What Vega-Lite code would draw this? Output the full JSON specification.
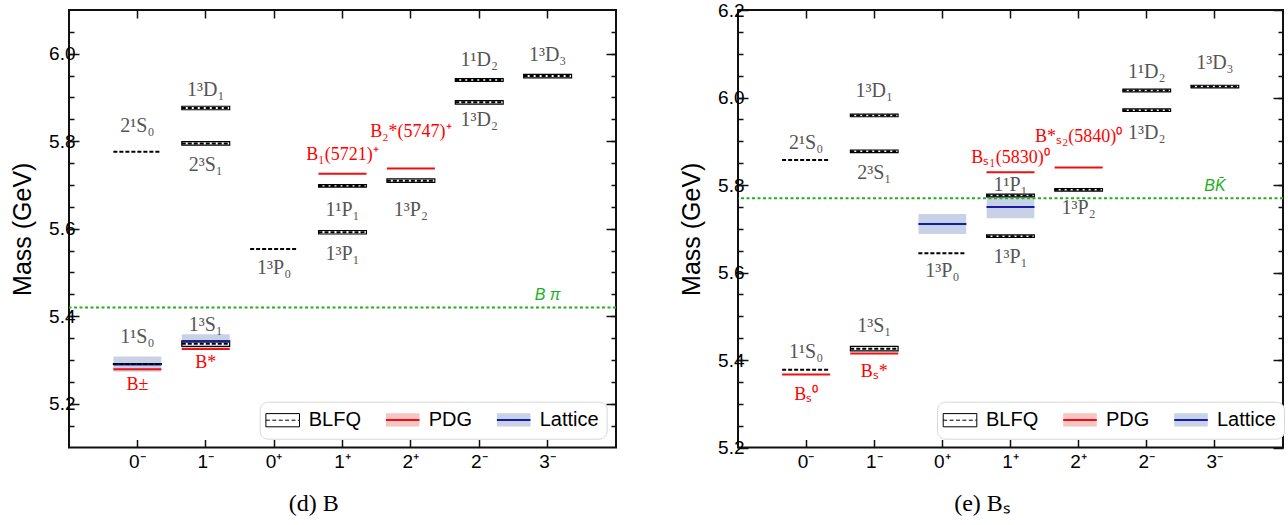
{
  "$schema": "https://vega.github.io/schema/vega-lite/v6.json",
  "background": "white",
  "padding": {"left": 9, "top": 0, "right": 2, "bottom": 2},
  "config": {
    "view": {"stroke": "#111", "strokeWidth": 2},
    "font": "Liberation Sans",
    "axis": {"grid": false, "domain": false, "labelFont": "Liberation Sans", "labelFontSize": 19, "labelColor": "black", "tickColor": "#111", "tickWidth": 1.5, "titleFont": "Liberation Sans", "titleFontSize": 25, "titleFontWeight": "normal", "titleColor": "black", "titlePadding": 13},
    "legend": {"labelFont": "Liberation Sans", "labelFontSize": 20, "labelColor": "black"}
  },
  "datasets": {
    "levels": [
      {"panel": "B", "jp": "0⁻", "series": "Lattice", "mass": 5.290, "lo": 5.273, "hi": 5.308},
      {"panel": "B", "jp": "1⁻", "series": "Lattice", "mass": 5.342, "lo": 5.327, "hi": 5.359},
      {"panel": "B", "jp": "0⁻", "series": "PDG", "mass": 5.279, "lo": 5.278, "hi": 5.280},
      {"panel": "B", "jp": "1⁻", "series": "PDG", "mass": 5.325, "lo": 5.324, "hi": 5.326},
      {"panel": "B", "jp": "1⁺", "series": "PDG", "mass": 5.726, "lo": 5.725, "hi": 5.727},
      {"panel": "B", "jp": "2⁺", "series": "PDG", "mass": 5.738, "lo": 5.737, "hi": 5.739},
      {"panel": "B", "jp": "0⁻", "series": "BLFQ", "mass": 5.291, "lo": 5.290, "hi": 5.292},
      {"panel": "B", "jp": "0⁻", "series": "BLFQ", "mass": 5.776, "lo": null, "hi": null},
      {"panel": "B", "jp": "1⁻", "series": "BLFQ", "mass": 5.337, "lo": 5.331, "hi": 5.344},
      {"panel": "B", "jp": "1⁻", "series": "BLFQ", "mass": 5.795, "lo": 5.791, "hi": 5.799},
      {"panel": "B", "jp": "1⁻", "series": "BLFQ", "mass": 5.876, "lo": 5.872, "hi": 5.880},
      {"panel": "B", "jp": "0⁺", "series": "BLFQ", "mass": 5.554, "lo": null, "hi": null},
      {"panel": "B", "jp": "1⁺", "series": "BLFQ", "mass": 5.592, "lo": 5.588, "hi": 5.596},
      {"panel": "B", "jp": "1⁺", "series": "BLFQ", "mass": 5.698, "lo": 5.695, "hi": 5.701},
      {"panel": "B", "jp": "2⁺", "series": "BLFQ", "mass": 5.710, "lo": 5.706, "hi": 5.714},
      {"panel": "B", "jp": "2⁻", "series": "BLFQ", "mass": 5.889, "lo": 5.885, "hi": 5.893},
      {"panel": "B", "jp": "2⁻", "series": "BLFQ", "mass": 5.940, "lo": 5.937, "hi": 5.943},
      {"panel": "B", "jp": "3⁻", "series": "BLFQ", "mass": 5.949, "lo": 5.945, "hi": 5.953},
      {"panel": "Bs", "jp": "0⁺", "series": "Lattice", "mass": 5.711, "lo": 5.688, "hi": 5.734},
      {"panel": "Bs", "jp": "1⁺", "series": "Lattice", "mass": 5.750, "lo": 5.724, "hi": 5.773},
      {"panel": "Bs", "jp": "0⁻", "series": "PDG", "mass": 5.367, "lo": 5.366, "hi": 5.368},
      {"panel": "Bs", "jp": "1⁻", "series": "PDG", "mass": 5.415, "lo": 5.414, "hi": 5.416},
      {"panel": "Bs", "jp": "1⁺", "series": "PDG", "mass": 5.829, "lo": 5.828, "hi": 5.830},
      {"panel": "Bs", "jp": "2⁺", "series": "PDG", "mass": 5.840, "lo": 5.839, "hi": 5.841},
      {"panel": "Bs", "jp": "0⁻", "series": "BLFQ", "mass": 5.378, "lo": null, "hi": null},
      {"panel": "Bs", "jp": "0⁻", "series": "BLFQ", "mass": 5.857, "lo": null, "hi": null},
      {"panel": "Bs", "jp": "1⁻", "series": "BLFQ", "mass": 5.426, "lo": 5.421, "hi": 5.431},
      {"panel": "Bs", "jp": "1⁻", "series": "BLFQ", "mass": 5.877, "lo": 5.874, "hi": 5.880},
      {"panel": "Bs", "jp": "1⁻", "series": "BLFQ", "mass": 5.959, "lo": 5.956, "hi": 5.962},
      {"panel": "Bs", "jp": "0⁺", "series": "BLFQ", "mass": 5.644, "lo": null, "hi": null},
      {"panel": "Bs", "jp": "1⁺", "series": "BLFQ", "mass": 5.683, "lo": 5.680, "hi": 5.686},
      {"panel": "Bs", "jp": "1⁺", "series": "BLFQ", "mass": 5.776, "lo": 5.773, "hi": 5.779},
      {"panel": "Bs", "jp": "2⁺", "series": "BLFQ", "mass": 5.789, "lo": 5.786, "hi": 5.792},
      {"panel": "Bs", "jp": "2⁻", "series": "BLFQ", "mass": 5.971, "lo": 5.968, "hi": 5.974},
      {"panel": "Bs", "jp": "2⁻", "series": "BLFQ", "mass": 6.016, "lo": 6.013, "hi": 6.019},
      {"panel": "Bs", "jp": "3⁻", "series": "BLFQ", "mass": 6.025, "lo": 6.022, "hi": 6.028}
    ],
    "thresholds": [
      {"panel": "B", "name": "Bπ", "mass": 5.420},
      {"panel": "Bs", "name": "BK̄", "mass": 5.770}
    ],
    "labels": [
      {"panel": "B", "jp": "0⁻", "pos": 5.834, "text": "2¹S₀", "kind": "state"},
      {"panel": "B", "jp": "1⁻", "pos": 5.918, "text": "1³D₁", "kind": "state"},
      {"panel": "B", "jp": "1⁻", "pos": 5.746, "text": "2³S₁", "kind": "state"},
      {"panel": "B", "jp": "1⁺", "pos": 5.643, "text": "1¹P₁", "kind": "state"},
      {"panel": "B", "jp": "1⁺", "pos": 5.543, "text": "1³P₁", "kind": "state"},
      {"panel": "B", "jp": "0⁺", "pos": 5.510, "text": "1³P₀", "kind": "state"},
      {"panel": "B", "jp": "2⁺", "pos": 5.643, "text": "1³P₂", "kind": "state"},
      {"panel": "B", "jp": "2⁻", "pos": 5.986, "text": "1¹D₂", "kind": "state"},
      {"panel": "B", "jp": "2⁻", "pos": 5.849, "text": "1³D₂", "kind": "state"},
      {"panel": "B", "jp": "3⁻", "pos": 5.998, "text": "1³D₃", "kind": "state"},
      {"panel": "B", "jp": "0⁻", "pos": 5.352, "text": "1¹S₀", "kind": "state"},
      {"panel": "B", "jp": "1⁻", "pos": 5.381, "text": "1³S₁", "kind": "state"},
      {"panel": "B", "jp": "1⁺", "pos": 5.769, "text": "B₁(5721)⁺", "kind": "pdg"},
      {"panel": "B", "jp": "2⁺", "pos": 5.822, "text": "B₂*(5747)⁺", "kind": "pdg"},
      {"panel": "B", "jp": "0⁻", "pos": 5.243, "text": "B±", "kind": "pdg"},
      {"panel": "B", "jp": "1⁻", "pos": 5.293, "text": "B*", "kind": "pdg"},
      {"panel": "B", "jp": "3⁻", "pos": 5.449, "text": "B π", "kind": "thr"},
      {"panel": "Bs", "jp": "0⁻", "pos": 5.895, "text": "2¹S₀", "kind": "state"},
      {"panel": "Bs", "jp": "1⁻", "pos": 6.015, "text": "1³D₁", "kind": "state"},
      {"panel": "Bs", "jp": "1⁻", "pos": 5.827, "text": "2³S₁", "kind": "state"},
      {"panel": "Bs", "jp": "1⁺", "pos": 5.801, "text": "1¹P₁", "kind": "state"},
      {"panel": "Bs", "jp": "1⁺", "pos": 5.636, "text": "1³P₁", "kind": "state"},
      {"panel": "Bs", "jp": "0⁺", "pos": 5.603, "text": "1³P₀", "kind": "state"},
      {"panel": "Bs", "jp": "2⁺", "pos": 5.748, "text": "1³P₂", "kind": "state"},
      {"panel": "Bs", "jp": "2⁻", "pos": 6.059, "text": "1¹D₂", "kind": "state"},
      {"panel": "Bs", "jp": "2⁻", "pos": 5.918, "text": "1³D₂", "kind": "state"},
      {"panel": "Bs", "jp": "3⁻", "pos": 6.078, "text": "1³D₃", "kind": "state"},
      {"panel": "Bs", "jp": "0⁻", "pos": 5.419, "text": "1¹S₀", "kind": "state"},
      {"panel": "Bs", "jp": "1⁻", "pos": 5.478, "text": "1³S₁", "kind": "state"},
      {"panel": "Bs", "jp": "1⁺", "pos": 5.862, "text": "Bₛ₁(5830)⁰", "kind": "pdg"},
      {"panel": "Bs", "jp": "2⁺", "pos": 5.910, "text": "B*ₛ₂(5840)⁰", "kind": "pdg"},
      {"panel": "Bs", "jp": "0⁻", "pos": 5.320, "text": "Bₛ⁰", "kind": "pdg"},
      {"panel": "Bs", "jp": "1⁻", "pos": 5.373, "text": "Bₛ*", "kind": "pdg"},
      {"panel": "Bs", "jp": "3⁻", "pos": 5.798, "text": "BK̄", "kind": "thr"}
    ]
  },
  "bounds": "flush",
  "spacing": 122,
  "resolve": {"scale": {"color": "independent", "stroke": "independent", "strokeDash": "independent"}, "legend": {"color": "independent"}},
  "hconcat": [
    {
      "width": 547,
      "height": 437.5,
      "title": {"text": "(d) B", "orient": "bottom", "anchor": "middle", "frame": "bounds", "font": "Liberation Serif", "fontSize": 24, "fontWeight": "normal", "color": "black", "offset": 20},
      "resolve": {"axis": {"x": "independent", "y": "independent"}},
      "layer": [
        {
          "data": {"name": "levels"},
          "transform": [{"filter": "datum.panel === 'B'"}],
          "mark": {"type": "bar", "width": {"band": 0.7}, "strokeWidth": 1.2},
          "encoding": {
            "x": {"field": "jp", "type": "nominal", "scale": {"domain": ["0⁻", "1⁻", "0⁺", "1⁺", "2⁺", "2⁻", "3⁻"], "paddingInner": 0, "paddingOuter": 0.5}, "axis": {"orient": "bottom", "title": null, "labelAngle": 0, "tickSize": -8, "labelPadding": 13}},
            "y": {"field": "lo", "type": "quantitative", "scale": {"domain": [5.1, 6.1], "nice": false, "zero": false}, "axis": {"orient": "left", "title": "Mass (GeV)", "values": [5.2, 5.4, 5.6, 5.8, 6.0], "format": ".1f", "tickSize": -10, "labelPadding": 4}},
            "y2": {"field": "hi"},
            "color": {"field": "series", "type": "nominal", "sort": ["BLFQ", "PDG", "Lattice"], "scale": {"range": ["white", "#f7c4c4", "#c8d2e6"]},
              "legend": {"title": null, "orient": "none", "legendX": 190.7, "legendY": 391.7, "direction": "horizontal", "symbolType": "M-1.4,0H1.4V0.55H-1.4V-0.55H1.4V0Z", "symbolSize": 576, "symbolOffset": 5, "labelOffset": 16, "columnPadding": 20, "padding": 8, "fillColor": "white", "strokeColor": "#d8d8d8", "cornerRadius": 8,
                "encoding": {"symbols": {
                  "stroke": {"value": {"signal": "datum.value === 'BLFQ' ? '#000000' : (datum.value === 'PDG' ? '#ee1111' : '#1a1aa8')"}},
                  "strokeWidth": {"value": {"signal": "datum.value === 'BLFQ' ? 1 : 2"}},
                  "strokeDash": {"value": {"signal": "datum.value === 'BLFQ' ? [4, 2.4, 4, 2.4, 4, 2.4, 4, 2.4, 4, 2.4, 1.6, 0, 93.6, 40] : [33.6, 200]"}}
                }}}},
            "stroke": {"condition": {"test": "datum.series === 'BLFQ'", "value": "#000"}, "value": "transparent"}
          }
        },
        {
          "data": {"name": "levels"},
          "transform": [{"filter": "datum.panel === 'B'"}],
          "mark": {"type": "rule", "xOffset": -24, "x2Offset": 24, "strokeWidth": 2},
          "encoding": {
            "x": {"field": "jp", "type": "nominal", "bandPosition": 0.5, "axis": {"orient": "top", "labels": false, "title": null, "tickSize": -8}},
            "x2": {"field": "jp", "bandPosition": 0.5},
            "y": {"field": "mass", "type": "quantitative", "axis": {"orient": "right", "labels": false, "title": null, "values": [5.2, 5.4, 5.6, 5.8, 6.0], "tickSize": -10}},
            "stroke": {"field": "series", "type": "nominal", "scale": {"domain": ["BLFQ", "PDG", "Lattice"], "range": ["#000000", "#ee1111", "#1a1aa8"]}, "legend": null},
            "strokeDash": {"field": "series", "type": "nominal", "scale": {"domain": ["BLFQ", "PDG", "Lattice"], "range": [[4, 2], [1, 0], [1, 0]]}, "legend": null}
          }
        },
        {
          "data": {"name": "thresholds"},
          "transform": [{"filter": "datum.panel === 'B'"}],
          "mark": {"type": "rule", "strokeDash": [3, 2.5], "strokeWidth": 2, "color": "#22b022"},
          "encoding": {
            "y": {"field": "mass", "type": "quantitative", "axis": {"orient": "left", "labels": false, "title": null, "values": [5.15, 5.2, 5.25, 5.3, 5.35, 5.4, 5.45, 5.5, 5.55, 5.6, 5.65, 5.7, 5.75, 5.8, 5.85, 5.9, 5.95, 6.0, 6.05], "tickSize": -5}}
          }
        },
        {
          "data": {"name": "labels"},
          "transform": [{"filter": "datum.panel === 'B' && datum.kind === 'state'"}],
          "mark": {"type": "text", "font": "Liberation Serif", "fontSize": 20, "color": "#555555", "baseline": "middle"},
          "encoding": {
            "x": {"field": "jp", "type": "nominal", "axis": null},
            "y": {"field": "pos", "type": "quantitative", "axis": {"orient": "right", "labels": false, "title": null, "values": [5.15, 5.2, 5.25, 5.3, 5.35, 5.4, 5.45, 5.5, 5.55, 5.6, 5.65, 5.7, 5.75, 5.8, 5.85, 5.9, 5.95, 6.0, 6.05], "tickSize": -5}},
            "text": {"field": "text"}
          }
        },
        {
          "data": {"name": "labels"},
          "transform": [{"filter": "datum.panel === 'B' && datum.kind === 'pdg'"}],
          "mark": {"type": "text", "font": "Liberation Serif", "fontSize": 18, "color": "#ff0000", "baseline": "middle"},
          "encoding": {
            "x": {"field": "jp", "type": "nominal", "axis": null},
            "y": {"field": "pos", "type": "quantitative", "axis": null},
            "text": {"field": "text"}
          }
        },
        {
          "data": {"name": "labels"},
          "transform": [{"filter": "datum.panel === 'B' && datum.kind === 'thr'"}],
          "mark": {"type": "text", "font": "Liberation Sans", "fontSize": 16, "fontStyle": "italic", "color": "#22b022", "baseline": "middle"},
          "encoding": {
            "x": {"field": "jp", "type": "nominal", "axis": null},
            "y": {"field": "pos", "type": "quantitative", "axis": null},
            "text": {"field": "text"}
          }
        }
      ]
    },
    {
      "width": 545,
      "height": 437.5,
      "title": {"text": "(e) Bₛ", "orient": "bottom", "anchor": "middle", "frame": "bounds", "font": "Liberation Serif", "fontSize": 24, "fontWeight": "normal", "color": "black", "offset": 20},
      "resolve": {"axis": {"x": "independent", "y": "independent"}},
      "layer": [
        {
          "data": {"name": "levels"},
          "transform": [{"filter": "datum.panel === 'Bs'"}],
          "mark": {"type": "bar", "width": {"band": 0.7}, "strokeWidth": 1.2},
          "encoding": {
            "x": {"field": "jp", "type": "nominal", "scale": {"domain": ["0⁻", "1⁻", "0⁺", "1⁺", "2⁺", "2⁻", "3⁻"], "paddingInner": 0, "paddingOuter": 0.5}, "axis": {"orient": "bottom", "title": null, "labelAngle": 0, "tickSize": -8, "labelPadding": 13}},
            "y": {"field": "lo", "type": "quantitative", "scale": {"domain": [5.2, 6.2], "nice": false, "zero": false}, "axis": {"orient": "left", "title": "Mass (GeV)", "values": [5.2, 5.4, 5.6, 5.8, 6.0, 6.2], "format": ".1f", "tickSize": -10, "labelPadding": 4}},
            "y2": {"field": "hi"},
            "color": {"field": "series", "type": "nominal", "sort": ["BLFQ", "PDG", "Lattice"], "scale": {"range": ["white", "#f7c4c4", "#c8d2e6"]},
              "legend": {"title": null, "orient": "none", "legendX": 199, "legendY": 391.7, "direction": "horizontal", "symbolType": "M-1.4,0H1.4V0.55H-1.4V-0.55H1.4V0Z", "symbolSize": 576, "symbolOffset": 5, "labelOffset": 16, "columnPadding": 20, "padding": 8, "fillColor": "white", "strokeColor": "#d8d8d8", "cornerRadius": 8,
                "encoding": {"symbols": {
                  "stroke": {"value": {"signal": "datum.value === 'BLFQ' ? '#000000' : (datum.value === 'PDG' ? '#ee1111' : '#1a1aa8')"}},
                  "strokeWidth": {"value": {"signal": "datum.value === 'BLFQ' ? 1 : 2"}},
                  "strokeDash": {"value": {"signal": "datum.value === 'BLFQ' ? [4, 2.4, 4, 2.4, 4, 2.4, 4, 2.4, 4, 2.4, 1.6, 0, 93.6, 40] : [33.6, 200]"}}
                }}}},
            "stroke": {"condition": {"test": "datum.series === 'BLFQ'", "value": "#000"}, "value": "transparent"}
          }
        },
        {
          "data": {"name": "levels"},
          "transform": [{"filter": "datum.panel === 'Bs'"}],
          "mark": {"type": "rule", "xOffset": -24, "x2Offset": 24, "strokeWidth": 2},
          "encoding": {
            "x": {"field": "jp", "type": "nominal", "bandPosition": 0.5, "axis": {"orient": "top", "labels": false, "title": null, "tickSize": -8}},
            "x2": {"field": "jp", "bandPosition": 0.5},
            "y": {"field": "mass", "type": "quantitative", "axis": {"orient": "right", "labels": false, "title": null, "values": [5.2, 5.4, 5.6, 5.8, 6.0, 6.2], "tickSize": -10}},
            "stroke": {"field": "series", "type": "nominal", "scale": {"domain": ["BLFQ", "PDG", "Lattice"], "range": ["#000000", "#ee1111", "#1a1aa8"]}, "legend": null},
            "strokeDash": {"field": "series", "type": "nominal", "scale": {"domain": ["BLFQ", "PDG", "Lattice"], "range": [[4, 2], [1, 0], [1, 0]]}, "legend": null}
          }
        },
        {
          "data": {"name": "thresholds"},
          "transform": [{"filter": "datum.panel === 'Bs'"}],
          "mark": {"type": "rule", "strokeDash": [3, 2.5], "strokeWidth": 2, "color": "#22b022"},
          "encoding": {
            "y": {"field": "mass", "type": "quantitative", "axis": {"orient": "left", "labels": false, "title": null, "values": [5.25, 5.3, 5.35, 5.4, 5.45, 5.5, 5.55, 5.6, 5.65, 5.7, 5.75, 5.8, 5.85, 5.9, 5.95, 6.0, 6.05, 6.1, 6.15], "tickSize": -5}}
          }
        },
        {
          "data": {"name": "labels"},
          "transform": [{"filter": "datum.panel === 'Bs' && datum.kind === 'state'"}],
          "mark": {"type": "text", "font": "Liberation Serif", "fontSize": 20, "color": "#555555", "baseline": "middle"},
          "encoding": {
            "x": {"field": "jp", "type": "nominal", "axis": null},
            "y": {"field": "pos", "type": "quantitative", "axis": {"orient": "right", "labels": false, "title": null, "values": [5.25, 5.3, 5.35, 5.4, 5.45, 5.5, 5.55, 5.6, 5.65, 5.7, 5.75, 5.8, 5.85, 5.9, 5.95, 6.0, 6.05, 6.1, 6.15], "tickSize": -5}},
            "text": {"field": "text"}
          }
        },
        {
          "data": {"name": "labels"},
          "transform": [{"filter": "datum.panel === 'Bs' && datum.kind === 'pdg'"}],
          "mark": {"type": "text", "font": "Liberation Serif", "fontSize": 18, "color": "#ff0000", "baseline": "middle"},
          "encoding": {
            "x": {"field": "jp", "type": "nominal", "axis": null},
            "y": {"field": "pos", "type": "quantitative", "axis": null},
            "text": {"field": "text"}
          }
        },
        {
          "data": {"name": "labels"},
          "transform": [{"filter": "datum.panel === 'Bs' && datum.kind === 'thr'"}],
          "mark": {"type": "text", "font": "Liberation Sans", "fontSize": 16, "fontStyle": "italic", "color": "#22b022", "baseline": "middle"},
          "encoding": {
            "x": {"field": "jp", "type": "nominal", "axis": null},
            "y": {"field": "pos", "type": "quantitative", "axis": null},
            "text": {"field": "text"}
          }
        }
      ]
    }
  ]
}
